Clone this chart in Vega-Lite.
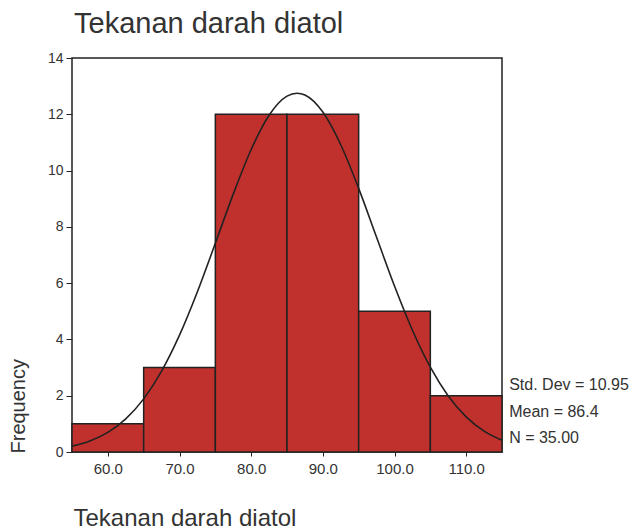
{
  "$schema": "https://vega.github.io/schema/vega-lite/v6.json",
  "autosize": "none",
  "width": 430,
  "height": 394,
  "padding": {"left": 72, "top": 58, "right": 130, "bottom": 79},
  "background": "white",
  "title": {"text": "Tekanan darah diatol", "anchor": "start", "frame": "group", "baseline": "alphabetic", "fontSize": 29, "fontWeight": "normal", "font": "Liberation Sans", "color": "#333333", "offset": -11, "dx": 2},
  "config": {
    "view": {"stroke": "#222222", "strokeWidth": 1.5},
    "axis": {"labelFont": "Liberation Sans", "titleFont": "Liberation Sans", "labelColor": "#333333", "titleColor": "#333333", "tickColor": "#222222", "domain": false, "grid": false}
  },
  "datasets": {
    "bins": [
      {"start": 55, "end": 65, "count": 1},
      {"start": 65, "end": 75, "count": 3},
      {"start": 75, "end": 85, "count": 12},
      {"start": 85, "end": 95, "count": 12},
      {"start": 95, "end": 105, "count": 5},
      {"start": 105, "end": 115, "count": 2}
    ],
    "curve": [
      {"x": 55, "y": 0.209}, {"x": 57.5, "y": 0.392}, {"x": 60, "y": 0.697}, {"x": 62.5, "y": 1.178},
      {"x": 65, "y": 1.888}, {"x": 67.5, "y": 2.875}, {"x": 70, "y": 4.153}, {"x": 72.5, "y": 5.696},
      {"x": 75, "y": 7.416}, {"x": 77.5, "y": 9.163}, {"x": 80, "y": 10.748}, {"x": 82.5, "y": 11.966},
      {"x": 85, "y": 12.646}, {"x": 86.4, "y": 12.75}, {"x": 87.5, "y": 12.686}, {"x": 90, "y": 12.079},
      {"x": 92.5, "y": 10.917}, {"x": 95, "y": 9.367}, {"x": 97.5, "y": 7.628}, {"x": 100, "y": 5.896},
      {"x": 102.5, "y": 4.326}, {"x": 105, "y": 3.013}, {"x": 107.5, "y": 1.992}, {"x": 110, "y": 1.25},
      {"x": 112.5, "y": 0.744}, {"x": 115, "y": 0.421}
    ],
    "stats": [
      {"label": "Std. Dev = 10.95", "x": 116, "y": 2.38},
      {"label": "Mean = 86.4", "x": 116, "y": 1.42},
      {"label": "N = 35.00", "x": 116, "y": 0.5}
    ]
  },
  "layer": [
    {
      "data": {"name": "bins"},
      "mark": {"type": "rect", "fill": "#c0302c", "stroke": "#222222", "strokeWidth": 1.5},
      "encoding": {
        "x": {"field": "start", "type": "quantitative", "scale": {"domain": [55, 115], "nice": false, "zero": false},
              "axis": {"values": [60, 70, 80, 90, 100, 110], "format": ".1f", "labelFontSize": 15, "labelPadding": 5, "tickSize": 4, "title": "Tekanan darah diatol", "titleFontSize": 24, "titleFontWeight": "normal", "titleAnchor": "start", "titleAlign": "left", "titleX": 1, "titleY": 73, "titleBaseline": "alphabetic"}},
        "x2": {"field": "end"},
        "y": {"field": "count", "type": "quantitative", "scale": {"domain": [0, 14], "nice": false},
              "axis": {"values": [0, 2, 4, 6, 8, 10, 12, 14], "labelFontSize": 14, "labelPadding": 3, "tickSize": 6, "title": "Frequency", "titleFontSize": 20, "titleFontWeight": "normal", "titleAngle": 270, "titleAlign": "left", "titleX": -48, "titleY": 395, "titleBaseline": "alphabetic"}},
        "y2": {"datum": 0}
      }
    },
    {
      "data": {"name": "curve"},
      "mark": {"type": "line", "color": "#222222", "strokeWidth": 1.6, "interpolate": "monotone"},
      "encoding": {
        "x": {"field": "x", "type": "quantitative"},
        "y": {"field": "y", "type": "quantitative"}
      }
    },
    {
      "data": {"name": "stats"},
      "mark": {"type": "text", "align": "left", "baseline": "middle", "font": "Liberation Sans", "fontSize": 16, "color": "#333333", "clip": false},
      "encoding": {
        "x": {"field": "x", "type": "quantitative"},
        "y": {"field": "y", "type": "quantitative"},
        "text": {"field": "label"}
      }
    }
  ]
}
